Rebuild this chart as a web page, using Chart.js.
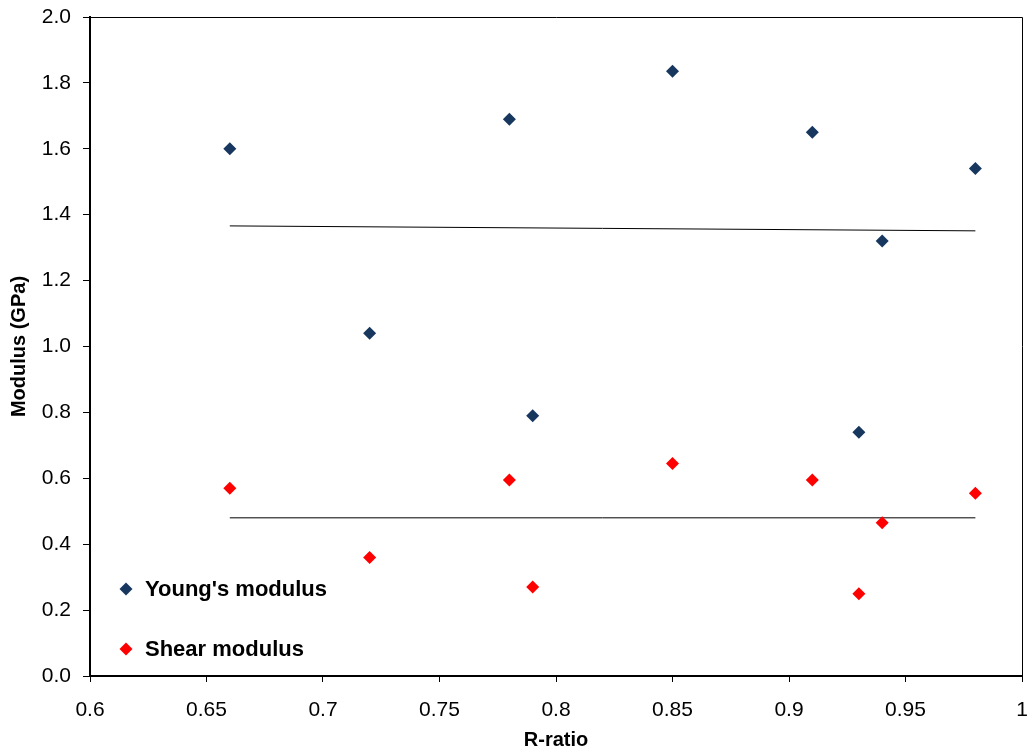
<!DOCTYPE html>
<html>
<head>
<meta charset="utf-8">
<script src="https://cdn.jsdelivr.net/npm/chart.js@4/dist/chart.umd.min.js"></script>
<style>
html,body{margin:0;padding:0;background:#fff;}
#wrap{width:1032px;height:755px;}
</style>
</head>
<body>
<div id="wrap"><canvas id="c" width="1032" height="755"></canvas></div>
<script>
const rRatio = [0.66, 0.72, 0.78, 0.79, 0.85, 0.91, 0.93, 0.94, 0.98];
const youngs = [1.60, 1.04, 1.69, 0.79, 1.835, 1.65, 0.74, 1.32, 1.54];
const shear  = [0.57, 0.36, 0.595, 0.27, 0.645, 0.595, 0.25, 0.465, 0.555];
const youngsTrendX = [0.66, 0.98];
const youngsTrendY = [1.366, 1.351];
const shearTrendX = [0.66, 0.98];
const shearTrendY = [0.48, 0.48];
const seriesNames = ["Young's modulus", "Shear modulus"];
const xTitle = "R-ratio";
const yTitle = "Modulus (GPa)";

const FONT = "'Liberation Sans', Arial, sans-serif";
const navy = '#17375E';
const red = '#FF0000';

const toPts = (xs, ys) => xs.map((x, i) => ({x: x, y: ys[i]}));

const frame = {
  id: 'frame',
  afterDraw(chart) {
    const {ctx, chartArea: a} = chart;
    ctx.save();
    ctx.strokeStyle = '#000';
    ctx.lineWidth = 1;
    ctx.beginPath();
    ctx.moveTo(a.left, a.top + 0.5);
    ctx.lineTo(a.right + 0.5, a.top + 0.5);
    ctx.lineTo(a.right + 0.5, a.bottom);
    ctx.stroke();
    // legend inside plot
    const items = [
      {label: seriesNames[0], color: navy},
      {label: seriesNames[1], color: red}
    ];
    ctx.font = 'bold 22px ' + FONT;
    ctx.textBaseline = 'middle';
    items.forEach((it, i) => {
      const y = a.bottom - 87 + i * 60;
      const x = a.left + 36;
      ctx.fillStyle = it.color;
      ctx.beginPath();
      ctx.moveTo(x, y - 6.5); ctx.lineTo(x + 6.5, y); ctx.lineTo(x, y + 6.5); ctx.lineTo(x - 6.5, y); ctx.closePath();
      ctx.fill();
      ctx.fillStyle = '#000';
      ctx.fillText(it.label, x + 19, y + 1);
    });
    ctx.restore();
  }
};

const noPad = s => { s.paddingTop = 0; s.paddingBottom = 0; s.paddingLeft = 0; s.paddingRight = 0; };

new Chart(document.getElementById('c'), {
  type: 'scatter',
  data: {
    datasets: [
      {label: seriesNames[0], data: toPts(rRatio, youngs), backgroundColor: navy, borderColor: navy,
       pointStyle: 'rectRot', pointRadius: 6.5, pointBorderWidth: 0, order: 1},
      {label: seriesNames[1], data: toPts(rRatio, shear), backgroundColor: red, borderColor: red,
       pointStyle: 'rectRot', pointRadius: 6.5, pointBorderWidth: 0, order: 1},
      {label: 'trendY', type: 'line', data: toPts(youngsTrendX, youngsTrendY), borderColor: '#000',
       borderWidth: 1, pointRadius: 0, fill: false, order: 2},
      {label: 'trendS', type: 'line', data: toPts(shearTrendX, shearTrendY), borderColor: '#000',
       borderWidth: 1, pointRadius: 0, fill: false, order: 2}
    ]
  },
  options: {
    responsive: false,
    animation: false,
    devicePixelRatio: 1,
    layout: {padding: {top: 17, right: 10, left: 0, bottom: 0}},
    plugins: {legend: {display: false}, tooltip: {enabled: false}},
    scales: {
      x: {
        type: 'linear', min: 0.6, max: 1,
        ticks: {stepSize: 0.05, color: '#000', font: {family: FONT, size: 21}, padding: 16,
          callback: v => String(Math.round(v * 100) / 100)},
        grid: {display: true, drawOnChartArea: false, drawTicks: true, tickLength: 6, color: '#000', lineWidth: 1},
        border: {display: true, color: '#000', width: 2},
        title: {display: true, text: xTitle, color: '#000', font: {family: FONT, size: 20, weight: 'bold'}, padding: {top: 0, bottom: 3}},
        afterFit: s => { s.height = 79; noPad(s); }
      },
      y: {
        type: 'linear', min: 0, max: 2,
        ticks: {stepSize: 0.2, color: '#000', font: {family: FONT, size: 21}, padding: 12,
          callback: v => v.toFixed(1)},
        grid: {display: true, drawOnChartArea: false, drawTicks: true, tickLength: 7, color: '#000', lineWidth: 1},
        border: {display: true, color: '#000', width: 2},
        title: {display: true, text: yTitle, color: '#000', font: {family: FONT, size: 20, weight: 'bold'}, padding: {top: 7, bottom: 0}},
        afterFit: s => { s.width = 90; noPad(s); }
      }
    }
  },
  plugins: [frame]
});
</script>
</body>
</html>
